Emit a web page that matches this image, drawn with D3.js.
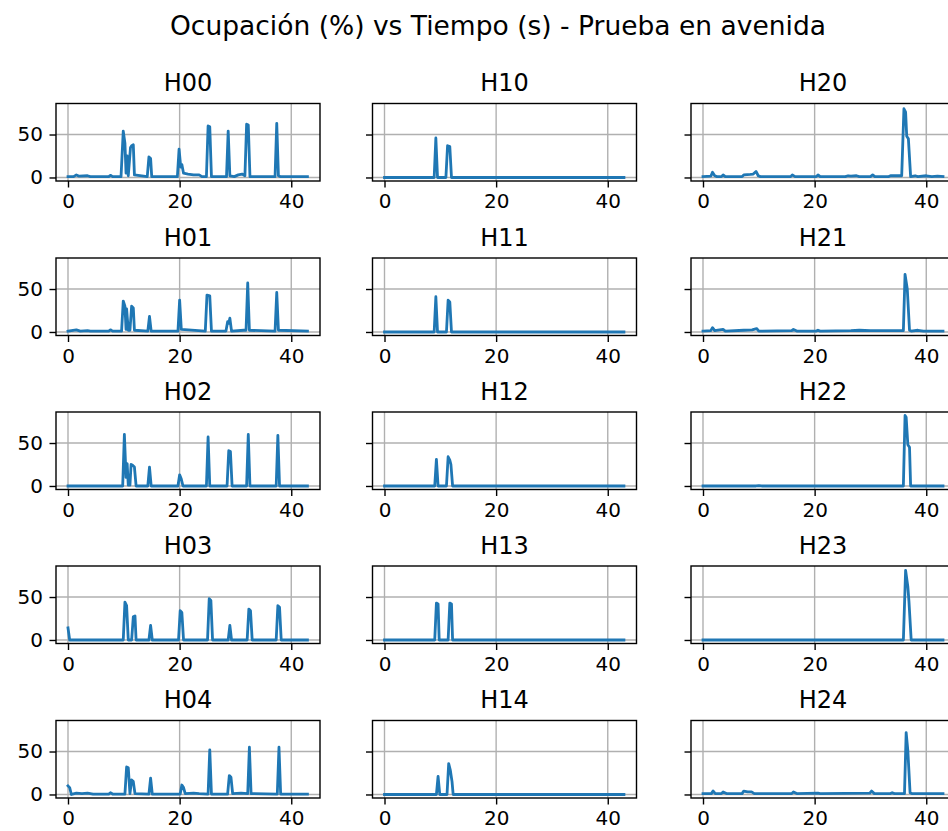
<!DOCTYPE html>
<html>
<head>
<meta charset="utf-8">
<script src="https://cdn.jsdelivr.net/npm/d3@7"></script>
<style>
  body { margin: 0; background: #fff; }
  svg { display: block; font-family: "DejaVu Sans", sans-serif; }
</style>
</head>
<body>
<div id="chart"></div>
<script>
// chart values, [time (s), occupancy (%)]
const title = "Ocupación (%) vs Tiempo (s) - Prueba en avenida";
const panelNames = ["H00", "H01", "H02", "H03", "H04",
                    "H10", "H11", "H12", "H13", "H14",
                    "H20", "H21", "H22", "H23", "H24"];
const xTicks = [0, 20, 40];
const yTicks = [0, 50];

const h00 = [[0,1],[1,1],[1.5,3],[2,1.5],[3.5,2],[4,1],[7.3,1],[7.6,2.5],[8,1],[9.5,1],[9.9,54],[10.2,40],[10.4,5],[10.6,25],[10.8,2],[11.2,35],[11.4,37],[11.7,38],[11.9,3],[14.2,1],[14.5,24],[14.8,22],[15.0,1],[19.6,1],[19.9,33],[20.2,12],[20.4,15],[20.7,5],[21.5,4],[22.5,3],[23.5,3],[24,1],[24.8,1],[25.1,60],[25.4,59],[25.7,1],[28.4,1],[28.7,54],[29.0,2],[29.8,1],[30.5,3],[31.2,4],[31.7,2],[32.0,62],[32.3,61],[32.6,1],[37.1,1],[37.4,63],[37.7,2],[38,1],[42.9,1]];
const h01 = [[0,1],[1.5,2.5],[2.2,1],[3.5,1.5],[4,1],[7.3,1],[7.6,2.5],[8,1],[9.6,1],[9.9,36],[10.2,30],[10.4,3],[10.5,27],[10.8,2],[11.1,2],[11.4,30],[11.7,28],[11.9,2],[14.3,1],[14.6,18],[14.9,1],[19.7,1],[20.0,37],[20.3,3],[24.6,1],[24.9,43],[25.4,42],[25.7,1],[28.3,1],[28.6,12],[28.8,10],[29.0,16],[29.3,1],[31.5,2],[31.9,2],[32.2,57],[32.5,2],[37.1,1],[37.4,46],[37.7,2],[42.9,1]];
const h02 = [[0,0],[9.8,0],[10.1,60],[10.4,10],[10.6,26],[10.8,1],[11.1,1],[11.3,25],[11.6,24],[11.9,22],[12.2,0],[14.3,0],[14.6,22],[14.9,0],[19.7,0],[20.0,13],[20.3,8],[20.6,0],[24.8,0],[25.1,57],[25.4,0],[28.5,0],[28.8,41],[29.1,40],[29.4,0],[32.0,0],[32.3,60],[32.6,0],[37.3,0],[37.6,59],[37.9,0],[42.9,0]];
const h03 = [[0,14],[0.3,0],[9.9,0],[10.2,44],[10.5,40],[10.8,0],[11.4,0],[11.7,27],[12.0,28],[12.2,0],[14.5,0],[14.8,17],[15.1,0],[19.8,0],[20.1,34],[20.4,32],[20.7,0],[25.0,0],[25.3,48],[25.6,46],[25.9,0],[28.7,0],[29.0,17],[29.3,0],[32.1,0],[32.4,36],[32.7,34],[33.0,0],[37.3,0],[37.6,40],[37.9,38],[38.2,0],[42.9,0]];
const h04 = [[0,10],[0.3,8],[0.6,0],[1.5,1.5],[2.5,1],[3.5,1.5],[4.5,0.5],[7.3,0.5],[7.6,2],[8,0.5],[10.2,0.5],[10.5,32],[10.8,31],[11.1,1],[11.4,17],[11.7,15],[12.0,1],[14.5,0.5],[14.8,19],[15.1,0.5],[20.1,0.5],[20.4,11],[20.7,8],[21.0,1],[22.5,1.5],[23.5,1],[25.1,0.5],[25.4,52],[25.7,0.5],[28.6,0.5],[28.9,22],[29.2,20],[29.5,1],[31,1.5],[32.2,1],[32.5,55],[32.8,1],[37.5,0.5],[37.8,55],[38.1,0.5],[42.9,0.5]];
const h10 = [[0,0],[8.9,0],[9.2,46],[9.5,0],[11.0,0],[11.3,37],[11.7,36],[12.0,0],[42.9,0]];
const h11 = [[0,0],[8.9,0],[9.2,41],[9.5,0],[11.1,0],[11.4,37],[11.7,35],[12.0,0],[42.9,0]];
const h12 = [[0,0],[9.0,0],[9.3,31],[9.6,0],[11.1,0],[11.4,34],[11.7,30],[11.9,25],[12.2,0],[42.9,0]];
const h13 = [[0,0],[9.0,0],[9.3,43],[9.6,42],[9.8,0],[11.4,0],[11.7,43],[12.0,42],[12.2,0],[42.9,0]];
const h14 = [[0,0],[9.3,0],[9.6,21],[9.9,0],[11.2,0],[11.5,36],[11.8,28],[12.1,15],[12.3,0],[42.9,0]];
const h20 = [[0,1],[1.4,1.5],[1.7,6],[2.1,2],[2.5,1],[3.3,1],[3.6,3],[4,1],[7.0,1],[7.3,3],[8.5,3.5],[9.0,4],[9.5,7],[9.9,2],[10.3,1],[15.7,1],[16.0,3],[16.5,1],[20.3,1],[20.6,3],[21,1],[25.5,1],[26,2],[26.5,1.5],[27.5,2],[28,1],[30.0,1],[30.4,3],[30.8,1],[33.3,1],[33.6,2],[35.6,2],[36.0,80],[36.3,76],[36.5,48],[36.8,45],[37.2,1],[38,2],[38.5,1],[40,2],[41,1],[42,1.5],[43,1]];
const h21 = [[0,1],[1.4,1.5],[1.7,5],[2.1,1.5],[3.6,3],[4,1],[7.3,2],[8.8,2.5],[9.6,4],[10,1],[15.9,1.5],[16.2,3],[16.8,1],[20.3,1],[20.6,2],[21,1],[26.5,1.5],[28,2],[30,1.5],[35.9,1.5],[36.2,67],[36.6,50],[37.0,2],[37.3,1],[38.5,2],[39.5,1],[43,1]];
const h22 = [[0,0],[9.5,0],[10,0.5],[10.5,0],[35.9,0],[36.2,82],[36.4,80],[36.7,48],[37.0,45],[37.2,0],[43,0]];
const h23 = [[0,0],[35.9,0],[36.3,81],[36.7,62],[36.9,45],[37.3,0],[43,0]];
const h24 = [[0,1],[1.5,1],[1.8,4],[2.2,1],[3.3,1],[3.6,3],[4.2,1],[7.0,1],[7.3,4],[8,3],[8.7,3],[9.2,1],[15.9,1],[16.2,3],[16.8,1],[20.6,1.5],[21,1],[29.9,1.5],[30.2,4],[30.7,1],[33.6,1],[33.9,2],[34.3,1],[36.1,1],[36.4,72],[36.7,51],[37.1,2],[37.4,1],[43,1]];

const series = [h00, h01, h02, h03, h04, h10, h11, h12, h13, h14, h20, h21, h22, h23, h24];

// layout
const width = 948, height = 831;
const colLeft = [56, 372.5, 691];
const rowTop = [103.5, 258, 412, 566, 720.5];
const axW = 264, axH = 77.5;
const tickLen = 6.5, tickPad = 6.5;
const tickFont = "20px", titleFont = "24px";

const svg = d3.select("#chart").append("svg")
    .attr("width", width)
    .attr("height", height);

svg.append("text")
    .attr("x", 498)
    .attr("y", 35)
    .attr("text-anchor", "middle")
    .attr("font-size", "26.5px")
    .attr("fill", "#000")
    .text(title);

// shared scales (sharex / sharey)
const allPts = series.flat();
const xExt = d3.extent(allPts, d => d[0]);
const yExt = d3.extent(allPts, d => d[1]);
const xPad = (xExt[1] - xExt[0]) * 0.05;
const yPad = (yExt[1] - yExt[0]) * 0.05;

const x = d3.scaleLinear().domain([xExt[0] - xPad, xExt[1] + xPad]).range([0, axW]);
const y = d3.scaleLinear().domain([yExt[0] - yPad, yExt[1] + yPad]).range([axH, 0]);

const line = d3.line().x(d => x(d[0])).y(d => y(d[1]));

series.forEach((data, i) => {
    const col = Math.floor(i / 5);
    const row = i % 5;
    const g = svg.append("g")
        .attr("transform", `translate(${colLeft[col]},${rowTop[row]})`);

    // grid
    g.append("g")
        .selectAll("line")
        .data(xTicks)
        .join("line")
        .attr("x1", d => x(d)).attr("x2", d => x(d))
        .attr("y1", 0).attr("y2", axH)
        .attr("stroke", "#b0b0b0").attr("stroke-width", 1.4);
    g.append("g")
        .selectAll("line")
        .data(yTicks)
        .join("line")
        .attr("x1", 0).attr("x2", axW)
        .attr("y1", d => y(d)).attr("y2", d => y(d))
        .attr("stroke", "#b0b0b0").attr("stroke-width", 1.4);

    // series line
    g.append("path")
        .datum(data)
        .attr("fill", "none")
        .attr("stroke", "#1f77b4")
        .attr("stroke-width", 2.8)
        .attr("stroke-linejoin", "round")
        .attr("stroke-linecap", "square")
        .attr("d", line);

    // x axis
    const xa = g.append("g")
        .attr("transform", `translate(0,${axH})`)
        .call(d3.axisBottom(x).tickValues(xTicks).tickSize(tickLen).tickPadding(tickPad).tickFormat(d3.format("d")));
    xa.select(".domain").remove();
    xa.selectAll("line").attr("stroke", "#000").attr("stroke-width", 1.4);
    xa.selectAll("text").attr("font-size", tickFont).attr("fill", "#000")
        .attr("font-family", "DejaVu Sans");

    // y axis (labels only on first column)
    const ya = g.append("g")
        .call(d3.axisLeft(y).tickValues(yTicks).tickSize(tickLen).tickPadding(tickPad)
            .tickFormat(col === 0 ? d3.format("d") : () => ""));
    ya.select(".domain").remove();
    ya.selectAll("line").attr("stroke", "#000").attr("stroke-width", 1.4);
    ya.selectAll("text").attr("font-size", tickFont).attr("fill", "#000")
        .attr("font-family", "DejaVu Sans");

    // frame
    g.append("rect")
        .attr("width", axW).attr("height", axH)
        .attr("fill", "none")
        .attr("stroke", "#000")
        .attr("stroke-width", 1.4);

    // panel title
    g.append("text")
        .attr("x", axW / 2)
        .attr("y", -12.5)
        .attr("text-anchor", "middle")
        .attr("font-size", titleFont)
        .attr("fill", "#000")
        .text(panelNames[i]);
});
</script>
</body>
</html>
